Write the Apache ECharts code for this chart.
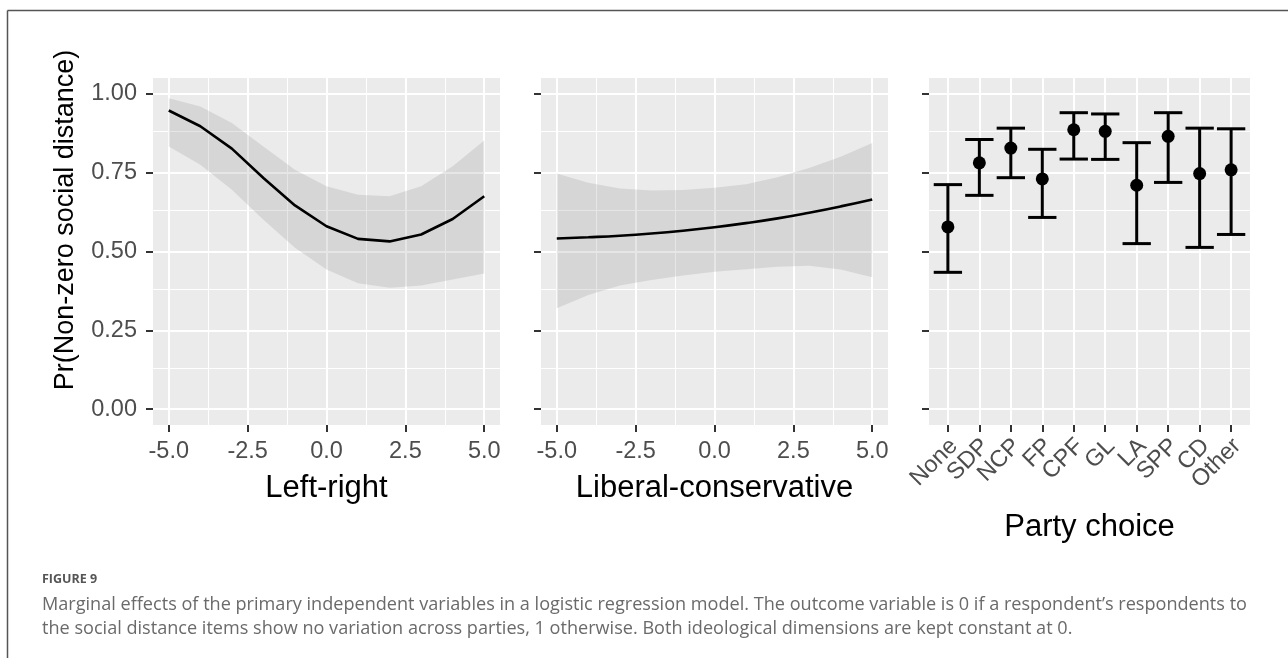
<!DOCTYPE html>
<html><head><meta charset="utf-8">
<script src="https://cdn.jsdelivr.net/npm/echarts@6/dist/echarts.min.js"></script>
<style>html,body{margin:0;padding:0;background:#fff;}#c{width:1288px;height:658px;}</style>
</head><body><div id="c"></div>
<script>
// ---------- data ----------
const xValues = [-5, -4, -3, -2, -1, 0, 1, 2, 3, 4, 5];
const leftRightFit   = [0.947, 0.897, 0.826, 0.733, 0.646, 0.580, 0.540, 0.532, 0.554, 0.603, 0.675];
const leftRightUpper = [0.986, 0.960, 0.907, 0.833, 0.759, 0.707, 0.680, 0.675, 0.707, 0.770, 0.852];
const leftRightLower = [0.833, 0.775, 0.696, 0.601, 0.512, 0.443, 0.399, 0.385, 0.392, 0.411, 0.430];
const libConFit   = [0.541, 0.545, 0.550, 0.557, 0.566, 0.577, 0.590, 0.605, 0.623, 0.643, 0.665];
const libConUpper = [0.747, 0.718, 0.700, 0.693, 0.695, 0.702, 0.713, 0.735, 0.765, 0.800, 0.844];
const libConLower = [0.320, 0.362, 0.392, 0.410, 0.424, 0.436, 0.444, 0.452, 0.455, 0.443, 0.418];
const parties     = ['None', 'SDP', 'NCP', 'FP', 'CPF', 'GL', 'LA', 'SPP', 'CD', 'Other'];
const partyFit    = [0.578, 0.781, 0.828, 0.730, 0.886, 0.881, 0.710, 0.865, 0.747, 0.759];
const partyLower  = [0.434, 0.678, 0.734, 0.608, 0.793, 0.792, 0.525, 0.719, 0.513, 0.554];
const partyUpper  = [0.712, 0.855, 0.891, 0.824, 0.940, 0.936, 0.845, 0.940, 0.891, 0.889];
const yTicks = [0, 0.25, 0.5, 0.75, 1];
const yMinor = [0.125, 0.375, 0.625, 0.875];
const xTicks = [-5, -2.5, 0, 2.5, 5];
const xMinor = [-3.75, -1.25, 1.25, 3.75];
const partyIdx = [0, 1, 2, 3, 4, 5, 6, 7, 8, 9];
const yTitle = 'Pr(Non-zero social distance)';
const xTitles = ['Left-right', 'Liberal-conservative', 'Party choice'];
const captionHead = 'FIGURE 9';
const captionLines = [
  'Marginal effects of the primary independent variables in a logistic regression model. The outcome variable is 0 if a respondent\u2019s respondents to',
  'the social distance items show no variation across parties, 1 otherwise. Both ideological dimensions are kept constant at 0.'
];

// ---------- layout ----------
const FONT = '"Liberation Sans", Arial, sans-serif';
const panels = [
  {left: 153, width: 347},
  {left: 541, width: 347},
  {left: 929, width: 321}
];
const TOP = 78, H = 347;
// discrete scale of panel 3: 10 categories with 0.6 expansion on each side;
// the label-only grid is nudged right so the rotated labels end just past their ticks
const P3 = panels[2], band = P3.width / 10.2, LABEL_NUDGE = 6;
const labelGrid = {left: P3.left + 0.1 * band + LABEL_NUDGE, top: TOP, width: 10 * band, height: H, show: false};

const grid = panels.map(p => ({left: p.left, top: TOP, width: p.width, height: H,
  show: true, backgroundColor: '#EBEBEB', borderWidth: 0, containLabel: false}));
grid.push(labelGrid);

const tickStyle = {color: '#333', width: 2};
const xAxis = [], yAxis = [];
panels.forEach((p, k) => {
  const isParty = k === 2;
  const major = isParty ? partyIdx : xTicks;
  xAxis.push({
    type: 'value', gridIndex: k, position: 'bottom',
    min: isParty ? -0.6 : -5.5, max: isParty ? 9.6 : 5.5,
    name: xTitles[k], nameLocation: 'middle', nameGap: isParty ? 87 : 48,
    nameTextStyle: {fontFamily: FONT, fontSize: 31, color: '#000'},
    axisLine: {show: false, onZero: false},
    axisTick: {show: true, length: 7, customValues: major, lineStyle: tickStyle},
    axisLabel: {show: !isParty, customValues: xTicks, fontFamily: FONT, fontSize: 23.5, color: '#4D4D4D',
      margin: 15, showMinLabel: true, showMaxLabel: true, formatter: v => v.toFixed(1)},
    splitLine: {show: false}
  });
  yAxis.push({
    type: 'value', gridIndex: k, min: -0.05, max: 1.05, position: 'left',
    name: k === 0 ? yTitle : '', nameLocation: 'middle', nameGap: 74, nameRotate: 90,
    nameTextStyle: {fontFamily: FONT, fontSize: 27, color: '#000', padding: [0, 0, 0, 63]},
    axisLine: {show: false, onZero: false},
    axisTick: {show: true, length: 7, customValues: yTicks, lineStyle: tickStyle},
    axisLabel: {show: k === 0, customValues: yTicks, fontFamily: FONT, fontSize: 23.5, color: '#4D4D4D',
      margin: 16, showMinLabel: true, showMaxLabel: true, formatter: v => v.toFixed(2)},
    splitLine: {show: false}
  });
});
// category axis carrying the party tick labels
xAxis.push({
  type: 'category', gridIndex: 3, data: parties, boundaryGap: true, position: 'bottom',
  axisLine: {show: false, onZero: false},
  axisTick: {show: false},
  axisLabel: {show: true, interval: 0, rotate: 45, margin: 17.5, fontFamily: FONT, fontSize: 23.5, color: '#4D4D4D'},
  splitLine: {show: false}
});
yAxis.push({type: 'value', gridIndex: 3, min: -0.05, max: 1.05, show: false});

// white panel grid lines drawn through the axes' own scales (major + minor)
function gridLines(isParty) {
  const data = [];
  const W = '#FFFFFF';
  yMinor.forEach(v => data.push({yAxis: v, lineStyle: {color: W, width: 1, type: 'solid'}}));
  if (!isParty) xMinor.forEach(v => data.push({xAxis: v, lineStyle: {color: W, width: 1, type: 'solid'}}));
  yTicks.forEach(v => data.push({yAxis: v, lineStyle: {color: W, width: 2, type: 'solid'}}));
  (isParty ? partyIdx : xTicks).forEach(v => data.push({xAxis: v, lineStyle: {color: W, width: 2, type: 'solid'}}));
  return {silent: true, symbol: ['none', 'none'], z: 1, animation: false,
    label: {show: false}, emphasis: {disabled: true},
    lineStyle: {color: W, type: 'solid', width: 1}, data};
}

function ribbon(k, xs, lo, hi) {
  return {
    type: 'custom', xAxisIndex: k, yAxisIndex: k, z: 2, silent: true,
    data: xs.map((x, i) => [x, lo[i], hi[i]]),
    encode: {x: 0, y: [1, 2]},
    renderItem: function (params, api) {
      if (params.dataIndex !== 0) return null;
      const pts = [];
      for (let i = 0; i < xs.length; i++) pts.push(api.coord([xs[i], hi[i]]));
      for (let i = xs.length - 1; i >= 0; i--) pts.push(api.coord([xs[i], lo[i]]));
      return {type: 'polygon', shape: {points: pts}, style: {fill: 'rgba(140,140,140,0.22)'}};
    }
  };
}
function fitLine(k, xs, ys, smooth) {
  return {
    type: 'line', xAxisIndex: k, yAxisIndex: k, z: 3, silent: true,
    data: xs.map((x, i) => [x, ys[i]]), symbol: 'none', smooth: smooth,
    lineStyle: {color: '#000', width: 2.6},
    markLine: gridLines(false)
  };
}

const series = [
  ribbon(0, xValues, leftRightLower, leftRightUpper),
  fitLine(0, xValues, leftRightFit, false),
  ribbon(1, xValues, libConLower, libConUpper),
  fitLine(1, xValues, libConFit, true),
  {
    type: 'custom', xAxisIndex: 2, yAxisIndex: 2, z: 3, silent: true,
    data: partyIdx.map(i => [i, partyLower[i], partyUpper[i]]),
    encode: {x: 0, y: [1, 2]},
    renderItem: function (params, api) {
      const x = api.value(0);
      const lo = api.coord([x, api.value(1)]);
      const hi = api.coord([x, api.value(2)]);
      const half = api.size([0.9, 0])[0] / 2;
      const st = {stroke: '#000', lineWidth: 3, fill: null};
      return {type: 'group', children: [
        {type: 'line', shape: {x1: lo[0], y1: lo[1], x2: hi[0], y2: hi[1]}, style: st},
        {type: 'line', shape: {x1: hi[0] - half, y1: hi[1], x2: hi[0] + half, y2: hi[1]}, style: st},
        {type: 'line', shape: {x1: lo[0] - half, y1: lo[1], x2: lo[0] + half, y2: lo[1]}, style: st}
      ]};
    }
  },
  {
    type: 'scatter', xAxisIndex: 2, yAxisIndex: 2, z: 4, silent: true,
    data: partyIdx.map(i => [i, partyFit[i]]), symbol: 'circle', symbolSize: 13,
    itemStyle: {color: '#000', opacity: 1},
    markLine: gridLines(true)
  }
];

const capFont = '"Open Sans", "Noto Sans", sans-serif';
const graphic = [
  {type: 'line', shape: {x1: 7.5, y1: 10.5, x2: 1288, y2: 10.5}, style: {stroke: '#555', lineWidth: 1.5}, silent: true},
  {type: 'line', shape: {x1: 7.5, y1: 10.5, x2: 7.5, y2: 658}, style: {stroke: '#555', lineWidth: 1.5}, silent: true},
  {type: 'text', left: 42, top: 573, style: {text: captionHead, font: 'bold 12.5px ' + capFont, fill: '#555'}},
  {type: 'text', left: 42, top: 596, style: {text: captionLines[0], font: '18.1px ' + capFont, fill: '#6a6a6a'}},
  {type: 'text', left: 42, top: 620, style: {text: captionLines[1], font: '18.1px ' + capFont, fill: '#6a6a6a'}}
];

const chart = echarts.init(document.getElementById('c'), null, {renderer: 'canvas'});
chart.setOption({animation: false, backgroundColor: '#fff', grid, xAxis, yAxis, series, graphic});
</script></body></html>
